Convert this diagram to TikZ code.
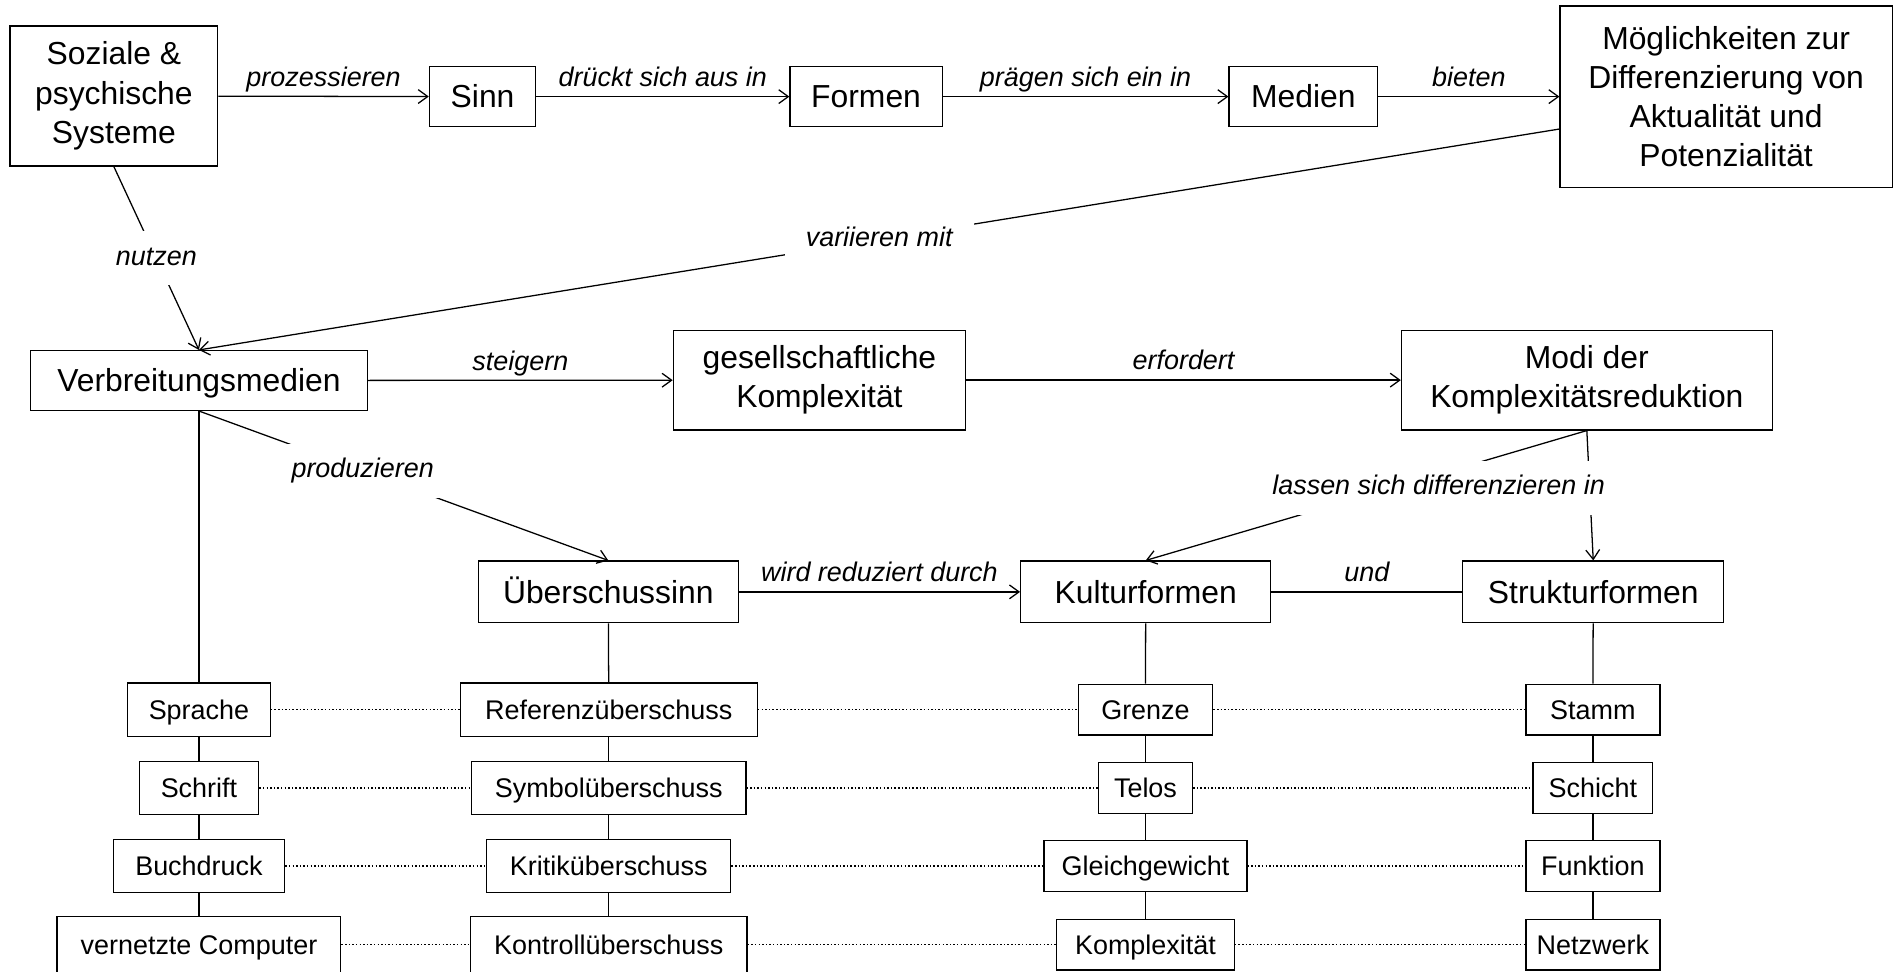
\documentclass[tikz,border=0pt]{standalone}
\usepackage{fontspec}
\setmainfont{Liberation Sans}
\usetikzlibrary{arrows.meta}
\tikzset{
  bigbox/.style={draw, line width=0.6pt, fill=white, align=center, inner sep=0pt, font=\fontsize{15}{18.5}\selectfont},
  onebox/.style={bigbox, text height=10.7pt, text depth=0pt},
  smallbox/.style={draw, line width=0.6pt, fill=white, inner sep=0pt, text height=9.1pt, text depth=0pt, font=\fontsize{12.7}{15}\selectfont},
  lbl/.style={font=\fontsize{12.7}{15}\selectfont\itshape, text height=9pt, text depth=2.5pt, inner sep=2pt},
  cutlbl/.style={lbl, fill=white, inner xsep=10pt, inner ysep=7pt},
  conn/.style={line width=0.6pt},
  rowline/.style={line width=0.7pt, densely dotted}
}
\begin{document}
\begin{tikzpicture}[x=0.02cm, y=-0.02cm, >={Straight Barb[length=4.5pt,width=6.5pt]}]
\useasboundingbox (0,0) rectangle (1568,803.9);
\node[bigbox, minimum width=3.44cm, minimum height=2.32cm] (soz) at (94.3,79.5) {Soziale \&\\psychische\\Systeme};
\node[onebox, minimum width=1.76cm, minimum height=1cm] (sinn) at (399.5,80) {Sinn};
\node[onebox, minimum width=2.52cm, minimum height=1cm] (formen) at (717,80) {Formen};
\node[onebox, minimum width=2.46cm, minimum height=1cm] (medien) at (1079,80) {Medien};
\node[bigbox, minimum width=5.5cm, minimum height=3cm] (mogl) at (1429,80) {Möglichkeiten zur\\Differenzierung von\\Aktualität und\\Potenzialität};
\node[onebox, minimum width=5.58cm, minimum height=0.99cm] (verb) at (164.7,315) {Verbreitungsmedien};
\node[bigbox, minimum width=4.84cm, minimum height=1.65cm] (gesell) at (678.4,314.7) {gesellschaftliche\\Komplexität};
\node[bigbox, minimum width=6.14cm, minimum height=1.65cm] (modi) at (1313.7,314.7) {Modi der\\Komplexitätsreduktion};
\node[onebox, minimum width=4.3cm, minimum height=1.02cm] (ueber) at (503.6,490) {Überschussinn};
\node[onebox, minimum width=4.14cm, minimum height=1.02cm] (kultur) at (948.5,490) {Kulturformen};
\node[onebox, minimum width=4.32cm, minimum height=1.02cm] (struktur) at (1319,490) {Strukturformen};
\foreach \n/\t/\x/\y/\w/\h in {
  sprache/Sprache/164.7/587.5/2.36/0.88, schrift/Schrift/164.7/652.5/1.98/0.88,
  buchdruck/Buchdruck/164.7/717/2.84/0.88, computer/vernetzte Computer/164.7/782/4.7/0.94,
  referenz/Referenzüberschuss/504/587.5/4.92/0.88, symbol/Symbolüberschuss/504/652.5/4.54/0.88,
  kritik/Kritiküberschuss/504/717/4.04/0.88, kontroll/Kontrollüberschuss/504/782/4.58/0.94,
  grenze/Grenze/948.3/587.5/2.23/0.84, telos/Telos/948.3/652.5/1.56/0.84,
  gleich/Gleichgewicht/948.3/717/3.36/0.84, komplex/Komplexität/948.3/782/2.94/0.84,
  stamm/Stamm/1318.7/587.5/2.22/0.84, schicht/Schicht/1318.7/652.5/1.98/0.84,
  funktion/Funktion/1318.7/717/2.22/0.84, netz/Netzwerk/1318.7/782/2.22/0.84}
  \node[smallbox, minimum width=\w cm, minimum height=\h cm] (\n) at (\x,\y) {\t};
\draw[conn,->] (soz) -- node[lbl,above] (lproz) {prozessieren} (sinn);
\draw[conn,->] (sinn) -- node[lbl,above] (ldrueck) {drückt sich aus in} (formen);
\draw[conn,->] (formen) -- node[lbl,above] (lpraeg) {prägen sich ein in} (medien);
\draw[conn,->] (medien) -- node[lbl,above] (lbiet) {bieten} (mogl);
\draw[conn,->] (soz.south) -- node[cutlbl] (lnutz) {nutzen} (verb.north);
\draw[conn,->] (mogl.191) -- node[cutlbl] (lvari) {variieren mit} (verb.north);
\draw[conn,->] (verb) -- node[lbl,above] (lsteig) {steigern} (gesell);
\draw[conn,->] (gesell) -- node[lbl,above] (lerf) {erfordert} (modi);
\draw[conn,->] (verb.south) -- node[cutlbl,pos=0.4] (lprod) {produzieren} (ueber.north);
\draw[conn,->] (ueber) -- node[lbl,above] (lwird) {wird reduziert durch} (kultur);
\draw[conn] (kultur) -- node[lbl,above] (lund) {und} (struktur);
\draw[conn,->] (modi.south) -- (kultur.north);
\draw[conn,->] (modi.south) -- (struktur.north);
\node[cutlbl] (ldiff) at (1191,404) {lassen sich differenzieren in};
\foreach \a/\b in {verb/sprache, sprache/schrift, schrift/buchdruck, buchdruck/computer,
  ueber/referenz, referenz/symbol, symbol/kritik, kritik/kontroll,
  kultur/grenze, grenze/telos, telos/gleich, gleich/komplex,
  struktur/stamm, stamm/schicht, schicht/funktion, funktion/netz}
  \draw[conn] (\a) -- (\b);
\foreach \a/\b/\c/\d in {sprache/referenz/grenze/stamm, schrift/symbol/telos/schicht,
  buchdruck/kritik/gleich/funktion, computer/kontroll/komplex/netz}{
  \draw[rowline] (\a) -- (\b);
  \draw[rowline] (\b) -- (\c);
  \draw[rowline] (\c) -- (\d);
}
\end{tikzpicture}
\end{document}
